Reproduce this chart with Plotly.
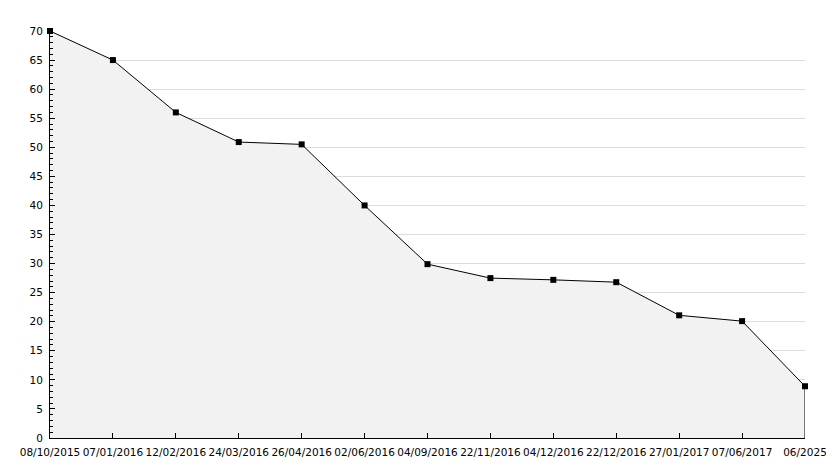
import plotly.graph_objects as go

dates = ["08/10/2015", "07/01/2016", "12/02/2016", "24/03/2016", "26/04/2016",
         "02/06/2016", "04/09/2016", "22/11/2016", "04/12/2016", "22/12/2016",
         "27/01/2017", "07/06/2017", "06/2025"]
values = [70, 65, 56, 50.9, 50.5, 40, 29.9, 27.5, 27.2, 26.8, 21.1, 20.1, 8.9]

fig = go.Figure()
fig.add_trace(go.Scatter(
    x=dates, y=values, mode="lines+markers", fill="tozeroy",
    fillcolor="#f2f2f2", line=dict(color="black", width=1),
    marker=dict(symbol="square", size=6, color="black"),
    cliponaxis=False, hoverinfo="skip"))
# right edge of filled area
fig.add_trace(go.Scatter(
    x=[dates[-1], dates[-1]], y=[0, values[-1]], mode="lines",
    line=dict(color="black", width=1), hoverinfo="skip", cliponaxis=False))

fig.update_layout(
    width=826, height=460, showlegend=False,
    margin=dict(l=42, r=29, t=23, b=30),
    paper_bgcolor="white", plot_bgcolor="white",
    font=dict(family="DejaVu Sans", size=10.5, color="black"),
    xaxis=dict(type="category", range=[0, len(dates) - 1], showgrid=False,
               showline=True, linecolor="black", linewidth=1,
               ticks="inside", ticklen=5, tickcolor="black", zeroline=False,
               tickangle=0, automargin=False, ticklabelstandoff=4),
    yaxis=dict(range=[0, 70], dtick=5, tick0=0, showgrid=True, gridcolor="#dcdcdc",
               gridwidth=1, showline=True, linecolor="black", linewidth=1,
               ticks="inside", ticklen=5, tickcolor="black", zeroline=False,
               ticklabelstandoff=4, automargin=False,
               minor=dict(dtick=1, ticks="inside", ticklen=3, tickcolor="black",
                          showgrid=False)),
)
fig.write_html("out.html")
